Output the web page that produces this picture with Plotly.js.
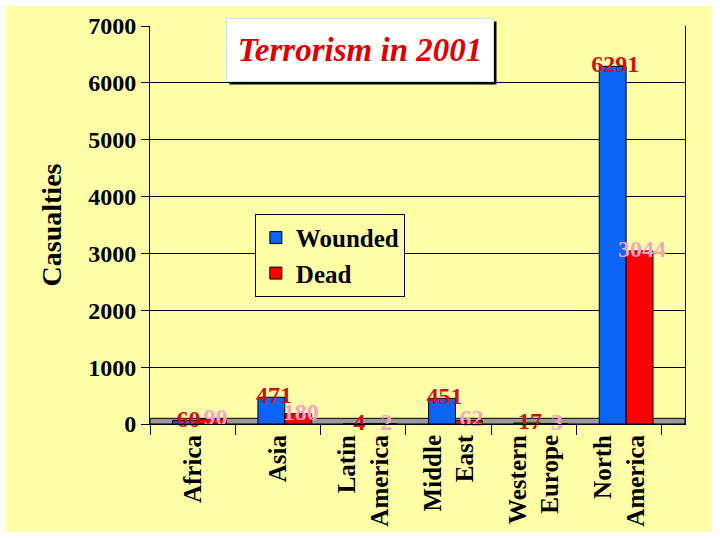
<!DOCTYPE html>
<html>
<head>
<meta charset="utf-8">
<script src="https://cdn.plot.ly/plotly-3.0.1.min.js"></script>
<style>
  html, body { margin: 0; padding: 0; background: #ffffff; width: 720px; height: 540px; overflow: hidden; }
  #chart { position: absolute; left: 6px; top: 6px; width: 706px; height: 526px; }
</style>
</head>
<body>
<div id="chart"></div>
<script>
// Data
const regions = ["Africa", "Asia", "Latin<br>America", "Middle<br>East", "Western<br>Europe", "North<br>America"];
const wounded = [60, 471, 4, 451, 17, 6291];
const dead = [90, 180, 2, 62, 3, 3044];
const seriesNames = ["Wounded", "Dead"];
const yTicks = [0, 1000, 2000, 3000, 4000, 5000, 6000, 7000];

const serif = "Liberation Serif, Times New Roman, serif";
const bg = "#FFFFA8";
const barW = 0.315;
const offW = -0.235, offD = 0.08;
const xRange = [-0.5, 5.77];

const traces = [
  {
    type: "bar", name: seriesNames[0], x: regions, y: wounded,
    width: barW, offset: offW,
    marker: { color: "#0A64F5", line: { color: "#000000", width: 1 } },
    hoverinfo: "x+y"
  },
  {
    type: "bar", name: seriesNames[1], x: regions, y: dead,
    width: barW, offset: offD,
    marker: { color: "#FF0000", line: { color: "#000000", width: 1 } },
    hoverinfo: "x+y"
  },
  {
    type: "scatter", mode: "text", xaxis: "x2", yaxis: "y", showlegend: false,
    x: regions.map((_, i) => i + offW + barW / 2 + 0.03), y: wounded,
    text: wounded.map(String), textposition: "middle center", cliponaxis: false,
    textfont: { family: serif, size: 24, color: "#D01010", weight: "bold" }
  },
  {
    type: "scatter", mode: "text", xaxis: "x2", yaxis: "y", showlegend: false,
    x: regions.map((_, i) => i + offD + barW / 2 + 0.03), y: dead,
    text: dead.map(String), textposition: "middle center", cliponaxis: false,
    textfont: { family: serif, size: 24, color: "#F7A0C8", weight: "bold" }
  }
];

const layout = {
  width: 706, height: 526,
  margin: { l: 144, r: 27, t: 20, b: 108 },
  paper_bgcolor: bg, plot_bgcolor: bg,
  barmode: "group", bargap: 0.37, bargroupgap: 0,
  showlegend: true,
  legend: {
    x: 0.196, y: 0.528, xanchor: "left", yanchor: "top",
    bgcolor: bg, bordercolor: "#000000", borderwidth: 1,
    font: { family: serif, size: 25, color: "#000000", weight: "bold" },
    tracegroupgap: 2
  },
  xaxis: {
    type: "category", range: xRange,
    tickangle: -90, tickson: "boundaries", ticks: "outside", ticklen: 10, tickcolor: "#000000",
    tickfont: { family: serif, size: 25, color: "#000000", weight: "bold" },
    showline: true, linecolor: "#000000", linewidth: 1, showgrid: false, zeroline: false
  },
  xaxis2: { overlaying: "x", range: xRange, visible: false, fixedrange: true },
  yaxis: {
    range: [0, 7000], tickvals: yTicks, ticktext: yTicks.map(String),
    ticks: "outside", ticklen: 8, tickcolor: "#000000",
    tickfont: { family: serif, size: 24, color: "#000000", weight: "bold" },
    showgrid: true, gridcolor: "#000000", gridwidth: 1,
    showline: true, linecolor: "#000000", linewidth: 1, mirror: true, zeroline: false,
    title: { text: "Casualties", standoff: 18, font: { family: serif, size: 28, color: "#000000", weight: "bold" } }
  },
  shapes: [
    { type: "rect", xref: "x domain", yref: "y", x0: 0, x1: 1, y0: 0, y1: 100,
      fillcolor: "#9A9A9A", line: { color: "#000000", width: 1 }, layer: "below" }
  ],
  annotations: [
    { xref: "paper", yref: "paper", x: 0.393, y: 0.94, xanchor: "center", yanchor: "middle",
      xshift: 3, yshift: -3, width: 262, height: 58, text: " ", showarrow: false,
      bgcolor: "#000000", borderpad: 2 },
    { xref: "paper", yref: "paper", x: 0.393, y: 0.94, xanchor: "center", yanchor: "middle",
      width: 262, height: 58, text: "Terrorism in 2001", showarrow: false,
      bgcolor: "#FFFFFF", bordercolor: "#C8E8F0", borderwidth: 1, borderpad: 2,
      font: { family: serif, size: 33, color: "#E00000", weight: "bold", style: "italic" } }
  ]
};

Plotly.newPlot("chart", traces, layout, { displayModeBar: false, staticPlot: true });
</script>
</body>
</html>
